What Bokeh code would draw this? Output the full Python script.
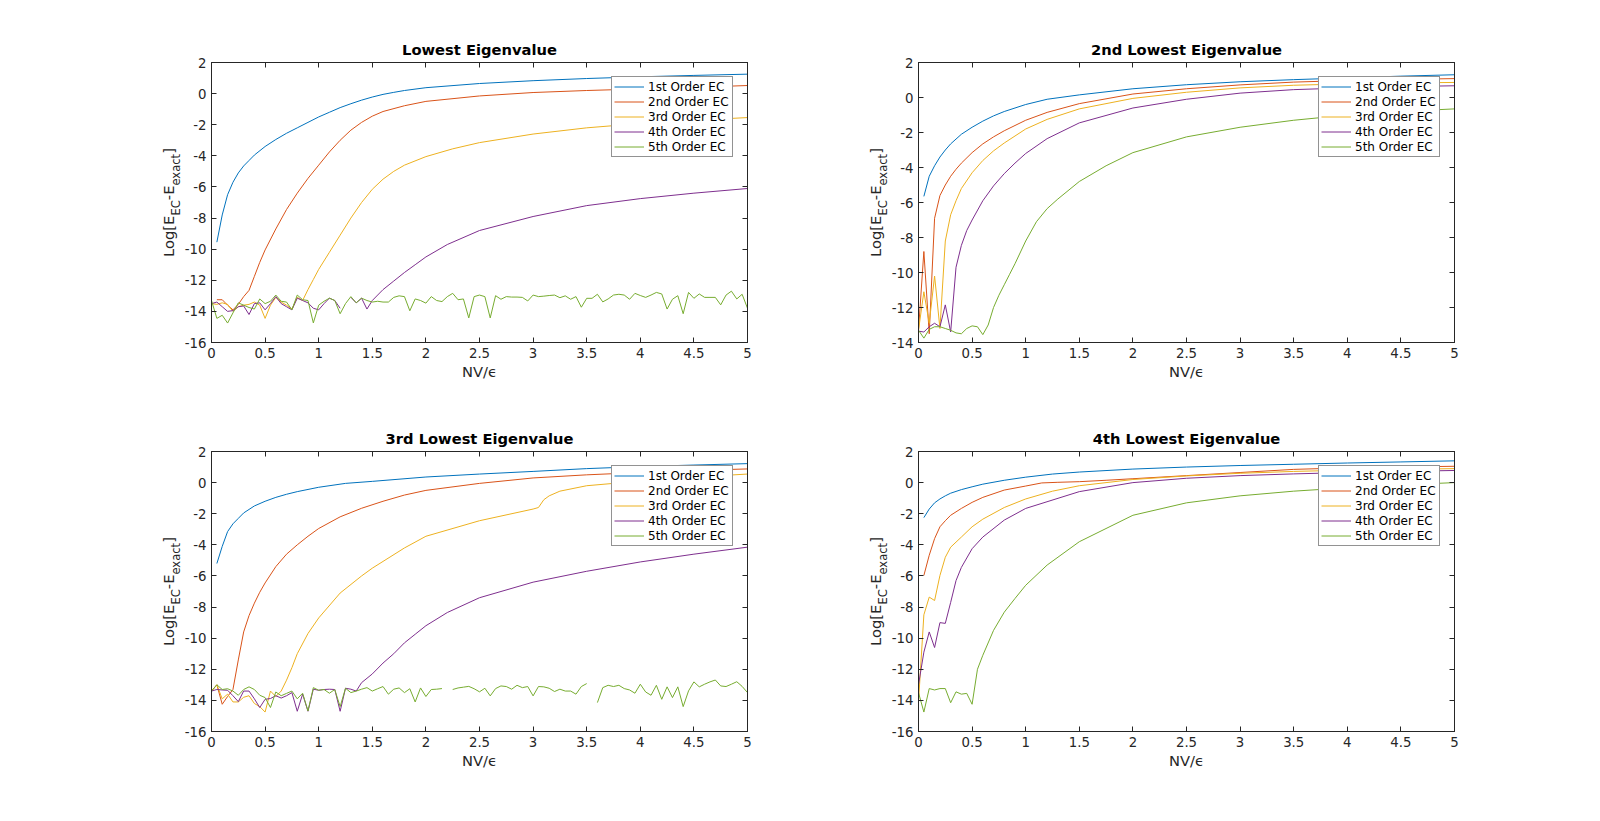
import math
from bokeh.plotting import figure
from bokeh.models import Range1d, FixedTicker, LinearAxis, CustomJSTickFormatter
from bokeh.layouts import row, column
from bokeh.embed import file_html
from bokeh.resources import INLINE
from bokeh.core.properties import value

nan = float("nan")

# ---------------- labels / ticks ----------------
TITLES = ["Lowest Eigenvalue", "2nd Lowest Eigenvalue", "3rd Lowest Eigenvalue", "4th Lowest Eigenvalue"]
SERIES_NAMES = ["1st Order EC", "2nd Order EC", "3rd Order EC", "4th Order EC", "5th Order EC"]
X_TICKS = [0, 0.5, 1, 1.5, 2, 2.5, 3, 3.5, 4, 4.5, 5]
Y_TICKS_16 = [-16, -14, -12, -10, -8, -6, -4, -2, 0, 2]
Y_TICKS_14 = [-14, -12, -10, -8, -6, -4, -2, 0, 2]
X_LABEL = "NV/ϵ"
YLABEL_PARTS = [("Log[E", False), ("EC", True), ("-E", False), ("exact", True), ("]", False)]

X_GRID = [0.0, 0.05, 0.1, 0.15, 0.2, 0.25, 0.3, 0.35, 0.4, 0.45,
          0.5, 0.55, 0.6, 0.65, 0.7, 0.75, 0.8, 0.85, 0.9, 0.95,
          1.0, 1.05, 1.1, 1.15, 1.2, 1.25, 1.3, 1.35, 1.4, 1.45,
          1.5, 1.55, 1.6, 1.65, 1.7, 1.75, 1.8, 1.85, 1.9, 1.95,
          2.0, 2.05, 2.1, 2.15, 2.2, 2.25, 2.3, 2.35, 2.4, 2.45,
          2.5, 2.55, 2.6, 2.65, 2.7, 2.75, 2.8, 2.85, 2.9, 2.95,
          3.0, 3.05, 3.1, 3.15, 3.2, 3.25, 3.3, 3.35, 3.4, 3.45,
          3.5, 3.55, 3.6, 3.65, 3.7, 3.75, 3.8, 3.85, 3.9, 3.95,
          4.0, 4.05, 4.1, 4.15, 4.2, 4.25, 4.3, 4.35, 4.4, 4.45,
          4.5, 4.55, 4.6, 4.65, 4.7, 4.75, 4.8, 4.85, 4.9, 4.95,
          5.0]

# ---------------- panel 1: Lowest Eigenvalue ----------------
TL_X1 = [0.05, 0.1, 0.15, 0.2, 0.25, 0.3, 0.35, 0.4, 0.5, 0.6, 0.7, 0.8, 0.9, 1.0, 1.1, 1.2, 1.3, 1.4, 1.5, 1.6, 1.7, 1.8, 2.0, 2.5, 3.0, 3.5, 4.0, 4.5, 5.0]
TL_Y1 = [-9.55, -7.8, -6.5, -5.7, -5.1, -4.65, -4.3, -3.95, -3.4, -2.95, -2.55, -2.2, -1.85, -1.5, -1.2, -0.9, -0.65, -0.42, -0.22, -0.05, 0.08, 0.2, 0.38, 0.65, 0.83, 0.97, 1.08, 1.17, 1.25]
TL_X2 = [0.05, 0.1, 0.15, 0.2, 0.25, 0.3, 0.35, 0.4, 0.45, 0.5, 0.6, 0.7, 0.8, 0.9, 1.0, 1.1, 1.2, 1.3, 1.4, 1.5, 1.6, 1.8, 2.0, 2.5, 3.0, 3.5, 4.0, 4.5, 5.0]
TL_Y2 = [-13.25, -13.25, -13.6, -13.9, -13.55, -13.05, -12.65, -11.75, -10.85, -10.05, -8.7, -7.45, -6.4, -5.45, -4.6, -3.75, -3.0, -2.35, -1.85, -1.45, -1.15, -0.78, -0.5, -0.15, 0.07, 0.2, 0.3, 0.4, 0.52]
TL_X3 = [0.0, 0.05, 0.1, 0.15, 0.2, 0.25, 0.3, 0.35, 0.4, 0.45, 0.5, 0.55, 0.6, 0.65, 0.7, 0.75, 0.8, 0.85, 0.9, 0.95,
         1.0, 1.1, 1.2, 1.3, 1.4, 1.5, 1.6, 1.7, 1.8, 2.0, 2.25, 2.5, 3.0, 3.5, 4.0, 4.5, 5.0]
TL_Y3 = [-13.5, -13.55, -13.45, -13.55, -14.0, -13.7, -13.6, -13.55, -13.4, -13.6, -14.45, -13.6, -13.1, -13.4, -13.6, -13.85, -13.1, -13.3, -12.6, -11.95,
         -11.3, -10.2, -9.1, -8.0, -7.0, -6.15, -5.5, -5.0, -4.6, -4.05, -3.55, -3.15, -2.6, -2.2, -1.92, -1.72, -1.54]
TL_X4 = [0.0, 0.05, 0.1, 0.15, 0.2, 0.25, 0.3, 0.35, 0.4, 0.45, 0.5, 0.55, 0.6, 0.65, 0.7, 0.75, 0.8, 0.85, 0.9, 0.95,
         1.0, 1.05, 1.1, 1.15, 1.2, 1.25, 1.3, 1.35, 1.4, 1.45, 1.5, 1.55, 1.6, 1.7, 1.8, 1.9, 2.0, 2.2, 2.5, 3.0, 3.5, 4.0, 4.5, 5.0]
TL_Y4 = [-13.5, -13.4, -13.7, -14.0, -13.95, -13.7, -13.65, -14.2, -13.5, -13.45, -13.9, -13.5, -13.05, -13.5, -13.7, -13.9, -13.15, -13.3, -13.45, -13.8,
         -13.9, -13.5, -13.15, -13.3, -13.8, nan, -13.1, -13.45, -13.15, -13.85, -13.3, -12.95, -12.6, -12.05, -11.5, -11.0, -10.5, -9.7, -8.8, -7.9, -7.2, -6.75, -6.4, -6.1]
TL_Y5 = [-13.3, -14.45, -14.25, -14.75, -14.1, -13.45, -13.6, -13.75, -13.85, -13.2,
         -13.5, -13.35, -12.95, -13.35, -13.4, -13.9, -12.95, -13.25, -13.3, -14.74,
         -13.6, -13.35, -13.15, -13.3, -14.15, -13.5, -13.05, -13.45, -13.15, -13.3,
         -13.4, -13.35, -13.4, -13.4, -13.1, -13.0, -13.05, -13.96, -13.2, -13.3,
         -13.47, -13.05, -13.3, -13.37, -13.05, -12.84, -13.25, -13.2, -14.42, -13.05,
         -12.95, -13.05, -14.42, -12.99, -13.22, -13.05, -13.08, -13.08, -13.1, -13.33,
         -12.95, -13.05, -13.02, -12.98, -12.95, -13.12, -13.0, -13.22, -13.05, -13.73,
         -13.16, -13.16, -12.9, -13.39, -13.2, -12.95, -12.9, -12.95, -13.22, -12.84,
         -12.98, -13.1, -12.95, -12.78, -12.88, -13.85, -13.22, -12.99, -14.15, -12.78,
         -13.16, -12.88, -13.1, -13.1, -13.1, -13.58, -12.95, -12.7, -13.2, -12.9,
         -13.8]

# ---------------- panel 2: 2nd Lowest Eigenvalue ----------------
TR_X1 = [0.05, 0.1, 0.15, 0.2, 0.25, 0.3, 0.4, 0.5, 0.6, 0.7, 0.8, 1.0, 1.2, 1.5, 2.0, 2.5, 3.0, 3.5, 4.0, 4.5, 5.0]
TR_Y1 = [-5.65, -4.5, -3.9, -3.4, -3.0, -2.65, -2.1, -1.7, -1.35, -1.05, -0.8, -0.4, -0.1, 0.15, 0.5, 0.73, 0.9, 1.02, 1.12, 1.22, 1.3]
TR_X2 = [0.0, 0.05, 0.1, 0.15, 0.2, 0.25, 0.3, 0.35, 0.4, 0.5, 0.6, 0.7, 0.8, 1.0, 1.2, 1.5, 2.0, 2.5, 3.0, 3.5, 4.0, 4.5, 5.0]
TR_Y2 = [-13.3, -8.8, -13.5, -6.9, -5.6, -5.0, -4.5, -4.1, -3.75, -3.15, -2.65, -2.25, -1.9, -1.3, -0.85, -0.35, 0.2, 0.5, 0.72, 0.88, 0.97, 1.03, 1.08]
TR_X3 = [0.0, 0.05, 0.1, 0.15, 0.2, 0.25, 0.3, 0.35, 0.4, 0.5, 0.6, 0.7, 0.8, 1.0, 1.2, 1.5, 2.0, 2.5, 3.0, 3.5, 4.0, 4.5, 5.0]
TR_Y3 = [-13.3, -11.1, -12.9, -10.2, -13.2, -8.2, -6.7, -5.9, -5.2, -4.3, -3.6, -3.05, -2.6, -1.8, -1.25, -0.65, -0.05, 0.3, 0.55, 0.7, 0.78, 0.83, 0.86]
TR_X4 = [0.0, 0.05, 0.1, 0.15, 0.2, 0.25, 0.3, 0.35, 0.4, 0.45, 0.5, 0.6, 0.7, 0.8, 0.9, 1.0, 1.2, 1.5, 2.0, 2.5, 3.0, 3.5, 4.0, 4.5, 5.0]
TR_Y4 = [-13.35, -13.4, -13.1, -12.9, -13.1, -11.85, -13.4, -9.7, -8.45, -7.6, -7.0, -5.9, -5.05, -4.35, -3.75, -3.2, -2.35, -1.45, -0.6, -0.1, 0.25, 0.45, 0.55, 0.62, 0.67]
TR_X5 = [0.0, 0.05, 0.1, 0.15, 0.2, 0.25, 0.3, 0.35, 0.4, 0.45, 0.5, 0.55, 0.6, 0.65, 0.7, 0.75, 0.8, 0.85, 0.9, 1.0, 1.1, 1.2, 1.3, 1.5, 1.75, 2.0, 2.5, 3.0, 3.5, 4.0, 4.5, 5.0]
TR_Y5 = [-13.3, -13.75, -13.25, -13.1, -13.1, -13.2, -13.3, -13.45, -13.5, -13.2, -13.05, -13.1, -13.55, -13.0, -12.0, -11.3, -10.7, -10.1, -9.5, -8.2, -7.1, -6.35, -5.8, -4.8, -3.9, -3.15, -2.25, -1.7, -1.3, -1.0, -0.8, -0.65]

# ---------------- panel 3: 3rd Lowest Eigenvalue ----------------
BL_X1 = [0.05, 0.1, 0.15, 0.2, 0.25, 0.3, 0.4, 0.5, 0.6, 0.7, 0.8, 1.0, 1.25, 1.5, 2.0, 2.5, 3.0, 3.5, 4.0, 4.5, 5.0]
BL_Y1 = [-5.2, -4.1, -3.15, -2.65, -2.3, -1.95, -1.5, -1.2, -0.95, -0.75, -0.58, -0.3, -0.05, 0.08, 0.36, 0.55, 0.72, 0.9, 1.03, 1.13, 1.22]
BL_X2 = [0.0, 0.05, 0.1, 0.15, 0.2, 0.25, 0.3, 0.35, 0.4, 0.45, 0.5, 0.6, 0.7, 0.8, 0.9, 1.0, 1.2, 1.4, 1.6, 1.8, 2.0, 2.5, 3.0, 3.5, 4.0, 4.5, 5.0]
BL_Y2 = [-13.4, -13.0, -14.25, -13.75, -13.3, -11.4, -9.6, -8.55, -7.75, -7.05, -6.45, -5.4, -4.6, -4.0, -3.45, -2.95, -2.2, -1.65, -1.2, -0.8, -0.5, -0.05, 0.3, 0.5, 0.65, 0.78, 0.88]
BL_X3 = [0.0, 0.05, 0.1, 0.15, 0.2, 0.25, 0.3, 0.35, 0.4, 0.45, 0.5, 0.55, 0.6, 0.65, 0.7, 0.75, 0.8, 0.9, 1.0, 1.2, 1.4, 1.5, 1.8, 2.0, 2.5, 3.0, 3.05, 3.1, 3.15, 3.25, 3.5, 4.0, 4.5, 5.0]
BL_Y3 = [-13.4, -13.0, -13.9, -13.6, -14.1, -14.1, -13.8, -13.7, -14.2, -14.4, -14.75, -13.4, -13.75, -13.4, -12.7, -11.9, -11.0, -9.7, -8.7, -7.1, -6.0, -5.5, -4.2, -3.45, -2.45, -1.7, -1.6, -1.1, -0.85, -0.55, -0.2, 0.1, 0.35, 0.55]
BL_X4 = [0.0, 0.05, 0.1, 0.15, 0.2, 0.25, 0.3, 0.35, 0.4, 0.45, 0.5, 0.55, 0.6, 0.65, 0.7, 0.75, 0.8, 0.85, 0.9, 0.95,
         1.0, 1.05, 1.1, 1.15, 1.2, 1.25, 1.3, 1.35, 1.4, 1.5, 1.6, 1.7, 1.8, 1.9, 2.0, 2.2, 2.5, 3.0, 3.5, 4.0, 4.5, 5.0]
BL_Y4 = [-13.4, -13.3, -13.33, -13.35, -13.7, -14.08, -13.4, -13.4, -13.9, -14.46, -13.93, -13.88, -13.7, -13.85, -13.7, -13.5, -14.7, -13.6, -14.7, -13.28,
         -13.35, -13.3, -13.28, -13.3, -14.7, -13.22, -13.28, -13.4, -12.86, -12.3, -11.6, -11.0, -10.3, -9.75, -9.2, -8.35, -7.4, -6.4, -5.7, -5.1, -4.6, -4.15]
BL_Y5 = [-13.4, -13.0, -13.3, -13.25, -13.4, -13.67, -13.3, -13.13, -13.3, -13.67,
         -13.82, -14.46, -13.46, -13.7, -13.55, -13.4, -13.9, -13.54, -14.68, -13.18,
         -13.35, -13.3, -13.54, -13.3, -14.4, -13.22, -13.5, -13.4, -13.28, -13.18,
         -13.4, -13.25, -13.11, -13.6, -13.28, -13.2, -13.5, -13.25, -14.1, -13.2,
         -13.75, -13.3, -13.28, -13.24, nan, -13.3, -13.2, -13.15, -13.1, -13.25,
         -13.45, -13.22, -13.71, -13.24, -13.07, -13.11, -13.28, -13.03, -13.18, -13.11,
         -13.71, -13.11, -13.13, -13.22, -13.43, -13.28, -13.4, -13.4, -13.6, -13.11,
         -12.92, nan, -14.14, -13.18, -13.03, -13.11, -13.03, -13.24, -13.33, -13.54,
         -12.96, -13.46, -13.67, -13.03, -13.93, -13.13, -13.82, -13.13, -14.4, -13.39,
         -12.81, -13.13, -12.96, -12.81, -12.69, -13.07, -13.11, -12.96, -12.8, -13.1,
         -13.5]

# ---------------- panel 4: 4th Lowest Eigenvalue ----------------
BR_X1 = [0.05, 0.1, 0.15, 0.2, 0.25, 0.3, 0.4, 0.5, 0.6, 0.8, 1.0, 1.25, 1.5, 2.0, 2.5, 3.0, 3.5, 4.0, 4.5, 5.0]
BR_Y1 = [-2.25, -1.7, -1.3, -1.05, -0.85, -0.68, -0.45, -0.27, -0.1, 0.15, 0.35, 0.55, 0.68, 0.87, 1.0, 1.1, 1.18, 1.26, 1.33, 1.4]
BR_X2 = [0.05, 0.1, 0.15, 0.2, 0.25, 0.3, 0.4, 0.5, 0.6, 0.8, 1.0, 1.15, 1.3, 1.5, 1.75, 2.0, 2.5, 3.0, 3.5, 4.0, 4.5, 5.0]
BR_Y2 = [-5.97, -4.67, -3.6, -2.84, -2.45, -2.1, -1.66, -1.27, -0.95, -0.48, -0.22, -0.02, 0.02, 0.06, 0.15, 0.25, 0.45, 0.65, 0.85, 0.95, 1.0, 1.05]
BR_X3 = [0.0, 0.05, 0.1, 0.15, 0.2, 0.25, 0.3, 0.4, 0.5, 0.6, 0.8, 1.0, 1.25, 1.5, 2.0, 2.5, 3.0, 3.5, 4.0, 4.5, 5.0]
BR_Y3 = [-14.1, -8.5, -7.36, -7.58, -5.97, -4.8, -4.15, -3.5, -2.84, -2.35, -1.6, -1.05, -0.55, -0.2, 0.2, 0.43, 0.6, 0.72, 0.8, 0.85, 0.9]
BR_X4 = [0.0, 0.05, 0.1, 0.15, 0.2, 0.25, 0.3, 0.35, 0.4, 0.5, 0.6, 0.8, 1.0, 1.5, 2.0, 2.5, 3.0, 3.5, 4.0, 4.5, 5.0]
BR_Y4 = [-13.0, -10.9, -9.6, -10.6, -9.0, -9.05, -7.7, -6.3, -5.45, -4.25, -3.5, -2.41, -1.66, -0.58, 0.0, 0.28, 0.45, 0.56, 0.65, 0.72, 0.78]
BR_X5 = [0.0, 0.05, 0.1, 0.15, 0.2, 0.25, 0.3, 0.35, 0.4, 0.45, 0.5, 0.55, 0.6, 0.7, 0.8, 0.9, 1.0, 1.2, 1.5, 2.0, 2.5, 3.0, 3.5, 4.0, 4.5, 5.0]
BR_Y5 = [-13.5, -14.75, -13.24, -13.33, -13.24, -13.24, -14.15, -13.45, -13.6, -13.55, -14.25, -12.0, -11.1, -9.5, -8.33, -7.45, -6.6, -5.3, -3.8, -2.1, -1.3, -0.85, -0.55, -0.33, -0.15, 0.0]

# ---------------- styling ----------------
COLORS = ["#0072BD", "#D95319", "#EDB120", "#7E2F8E", "#77AC30"]
FONT = "DejaVu Sans"
AX = "#262626"
FRAME_W, FRAME_H = 536, 280
AXIS_BORDER = 27          # left border of each panel (tick labels only)
YLAB_BASE_GAP = 40        # y-label baseline distance from the frame edge
SUB_DROP = 7              # subscript baseline shift (px)

# DejaVu Sans advance widths (em) for the y-label pieces
CHAR_W = {"L": 0.557, "o": 0.612, "g": 0.635, "[": 0.390, "E": 0.632, "C": 0.698, "-": 0.361,
          "e": 0.615, "x": 0.592, "a": 0.613, "c": 0.550, "t": 0.392, "]": 0.390}
YLAB_MAIN, YLAB_SUB = 14.7, 11.5


def tw(s, size):
    return sum(CHAR_W[c] for c in s) * size


def style_axis(ax, ticks, show_labels):
    ax.ticker = FixedTicker(ticks=ticks, minor_ticks=[])
    if show_labels:
        ax.formatter = CustomJSTickFormatter(code="return String(Math.round(tick * 100) / 100);")
        ax.major_label_standoff = 5
    else:
        ax.formatter = CustomJSTickFormatter(code="return '';")
        ax.major_label_standoff = 0
    ax.major_tick_in = 5
    ax.major_tick_out = 0
    ax.minor_tick_line_color = None
    ax.axis_line_color = AX
    ax.major_tick_line_color = AX
    ax.major_label_text_color = AX
    ax.major_label_text_font = FONT
    ax.major_label_text_font_size = "13.3px"


def make_ylabel(width, bt, bb):
    """Narrow figure (pixel data units) holding the rotated y-axis title with subscripts."""
    f = figure(frame_width=width, frame_height=FRAME_H, x_range=Range1d(0, width), y_range=Range1d(0, FRAME_H),
               min_border_left=0, min_border_right=0, min_border_top=bt, min_border_bottom=bb,
               x_axis_location=None, y_axis_location=None, title=None,
               output_backend="svg", toolbar_location=None, tools="",
               background_fill_color="white", border_fill_color="white")
    f.grid.visible = False
    f.outline_line_color = None
    base_x = width + AXIS_BORDER - YLAB_BASE_GAP
    total = sum(tw(s, YLAB_SUB if sub else YLAB_MAIN) for s, sub in YLABEL_PARTS)
    pos = FRAME_H / 2.0 - total / 2.0
    for s, sub in YLABEL_PARTS:
        size = YLAB_SUB if sub else YLAB_MAIN
        f.text(x=[base_x + (SUB_DROP if sub else 0)], y=[pos], text=[s], angle=math.pi / 2,
               text_align="left", text_baseline="alphabetic",
               text_font=value(FONT), text_font_size="%spx" % size, text_color=AX)
        pos += tw(s, size)
    return f


def make_panel(title, xs, ys, ymin, ymax, yticks, br, bt, bb):
    p = figure(frame_width=FRAME_W, frame_height=FRAME_H,
               x_range=Range1d(0, 5), y_range=Range1d(ymin, ymax),
               min_border_left=AXIS_BORDER, min_border_right=br, min_border_top=bt, min_border_bottom=bb,
               output_backend="svg", toolbar_location=None, tools="",
               background_fill_color="white", border_fill_color="white")
    p.grid.visible = False
    p.outline_line_color = AX
    p.outline_line_width = 1

    for i in range(5):
        p.line(xs[i], ys[i], line_color=COLORS[i], line_width=1, legend_label=SERIES_NAMES[i])

    style_axis(p.below[0], X_TICKS, True)
    style_axis(p.left[0], yticks, True)
    p.below[0].axis_label = X_LABEL
    p.below[0].axis_label_text_font = FONT
    p.below[0].axis_label_text_font_size = "14.7px"
    p.below[0].axis_label_text_font_style = "normal"
    p.below[0].axis_label_text_color = AX
    p.below[0].axis_label_standoff = 2

    top = LinearAxis()
    style_axis(top, X_TICKS, False)
    p.add_layout(top, "above")
    right = LinearAxis()
    style_axis(right, yticks, False)
    p.add_layout(right, "right")

    p.title.text = title
    p.title.align = "center"
    p.title.text_font = FONT
    p.title.text_font_size = "14.7px"
    p.title.text_font_style = "bold"
    p.title.text_color = "black"

    lg = p.legend[0]
    lg.location = "top_right"
    lg.margin = 14
    lg.padding = 2
    lg.spacing = 0
    lg.label_height = 15
    lg.glyph_height = 15
    lg.glyph_width = 30
    lg.label_standoff = 4
    lg.label_width = 82
    lg.label_text_font = FONT
    lg.label_text_font_size = "12px"
    lg.label_text_color = "black"
    lg.border_line_color = AX
    lg.border_line_width = 1
    lg.background_fill_color = "white"
    lg.background_fill_alpha = 1.0
    return p


# layout in page pixels: frames at x=208 and x=912, y=62 and y=451
RIGHT_B = 60
YL1_W = 208 - AXIS_BORDER
YL2_W = 912 - (YL1_W + AXIS_BORDER + FRAME_W + RIGHT_B) - AXIS_BORDER
TOP1, BOT1, TOP2, BOT2 = 62, 64, 45, 60

p1 = make_panel(TITLES[0], [TL_X1, TL_X2, TL_X3, TL_X4, X_GRID], [TL_Y1, TL_Y2, TL_Y3, TL_Y4, TL_Y5],
                -16, 2, Y_TICKS_16, RIGHT_B, TOP1, BOT1)
p2 = make_panel(TITLES[1], [TR_X1, TR_X2, TR_X3, TR_X4, TR_X5], [TR_Y1, TR_Y2, TR_Y3, TR_Y4, TR_Y5],
                -14, 2, Y_TICKS_14, RIGHT_B, TOP1, BOT1)
p3 = make_panel(TITLES[2], [BL_X1, BL_X2, BL_X3, BL_X4, X_GRID], [BL_Y1, BL_Y2, BL_Y3, BL_Y4, BL_Y5],
                -16, 2, Y_TICKS_16, RIGHT_B, TOP2, BOT2)
p4 = make_panel(TITLES[3], [BR_X1, BR_X2, BR_X3, BR_X4, BR_X5], [BR_Y1, BR_Y2, BR_Y3, BR_Y4, BR_Y5],
                -16, 2, Y_TICKS_16, RIGHT_B, TOP2, BOT2)

layout = column(
    row(make_ylabel(YL1_W, TOP1, BOT1), p1, make_ylabel(YL2_W, TOP1, BOT1), p2),
    row(make_ylabel(YL1_W, TOP2, BOT2), p3, make_ylabel(YL2_W, TOP2, BOT2), p4),
)
open("out.html", "w").write(file_html(layout, INLINE))
